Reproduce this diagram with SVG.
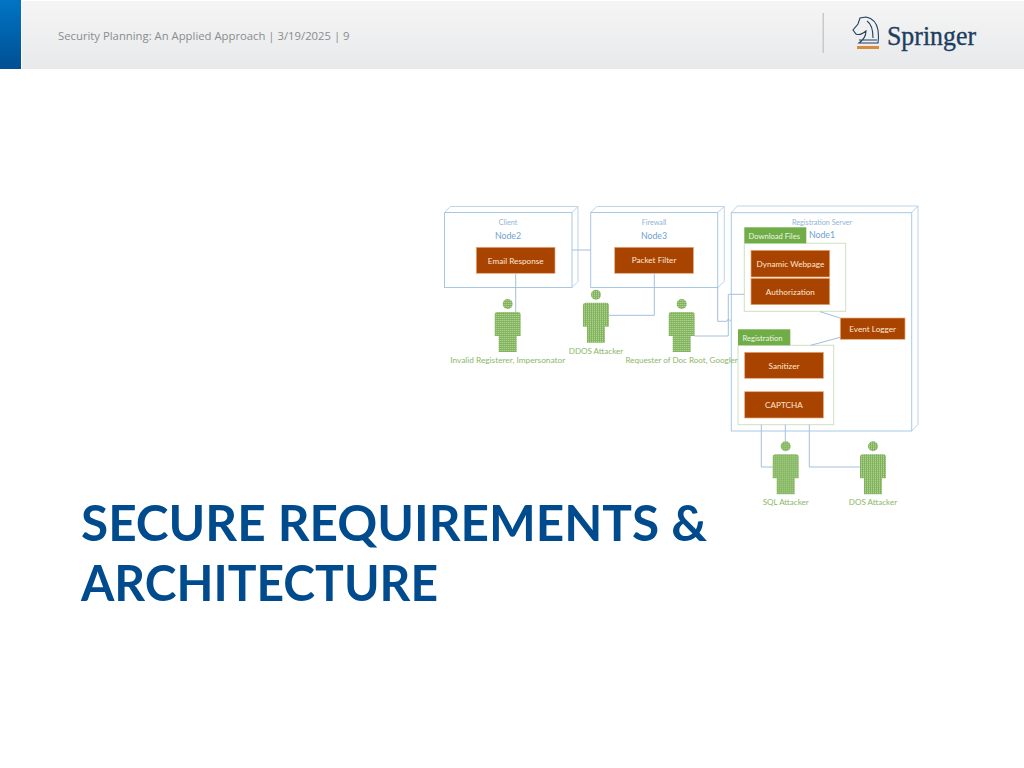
<svg xmlns="http://www.w3.org/2000/svg" width="1024" height="768" viewBox="0 0 1024 768">
<style>
text{font-family:"Lato","Open Sans","Liberation Sans",sans-serif}
.node{fill:#fff;stroke:#a8c8e2;stroke-width:1}
.depth{fill:none;stroke:#bdd3e8;stroke-width:1}
.conn{fill:none;stroke:#a5bedb;stroke-width:1}
.comp{fill:#a94400;stroke:#e8a878;stroke-width:.7}
.tab{fill:#70ad47}
.pkg{fill:#fff;stroke:#cfdfc4;stroke-width:1}
.ct{font-size:8.2px;fill:#fbe6d6;text-anchor:middle}
.tt{font-size:7.6px;fill:#eef6e8}
.nt{font-size:7.2px;fill:#8fb3d6;text-anchor:middle}
.nn{font-size:8.8px;fill:#6f9fd0;text-anchor:middle}
.al{font-size:8.050px;fill:#8ab768;text-anchor:middle}
.person{fill:url(#dots)}
</style>
<defs>
<linearGradient id="hd" x1="0" y1="0" x2="0" y2="1"><stop offset="0" stop-color="#f5f5f5"/><stop offset="1" stop-color="#e8e9eb"/></linearGradient>
<linearGradient id="bl" x1="0" y1="0" x2="0" y2="1"><stop offset="0" stop-color="#0075c4"/><stop offset="1" stop-color="#004f93"/></linearGradient>
<pattern id="dots" width="2" height="2" patternUnits="userSpaceOnUse"><rect width="2" height="2" fill="#80b35a"/><rect width="1" height="1" fill="#c0dcac"/></pattern>
<symbol id="actor" overflow="visible"><circle cx="0" cy="0" r="5"/><path d="M-10.500,8H10.500Q13,8 13,11V32H9V48H-9V32H-13V11Q-13,8 -10.500,8Z"/></symbol>
</defs>
<rect x="22" y="1" width="1002" height="68" fill="url(#hd)"/>
<rect x="0" y="0" width="21" height="69" fill="url(#bl)"/>
<text x="58" y="40" font-size="11.300" fill="#8a8c8e" style="font-family:'Open Sans',sans-serif">Security Planning: An Applied Approach | 3/19/2025 | 9</text>
<rect x="822.500" y="13" width="1.500" height="40" fill="#c9c9c9"/>
<g id="logo">
<path d="M859,43Q866,38 866,31Q860,36 856,34L853,30L858,24L860,18L866,17Q876,19 878,30Q879,37 878,43ZM859,40H877M867,21Q873,25 873,38" fill="none" stroke="#1f3f60" stroke-width="1.100"/>
<rect x="857" y="46" width="22" height="3" fill="#d98a3d"/>
<text x="887" y="45" font-size="26.500" fill="#1c3e5f" stroke="#1c3e5f" stroke-width=".35" textLength="89" lengthAdjust="spacingAndGlyphs" style="font-family:'Liberation Serif',serif">Springer</text>
</g>
<g id="node-client">
<rect class="node" x="444.500" y="212.500" width="127.500" height="75"/>
<path class="depth" d="M444.500,212.500L450.500,206.500H578V281.500L572,287.500M572,212.500L578,206.500"/>
<text class="nt" x="508" y="225">Client</text><text class="nn" x="508" y="238.500">Node2</text>
<rect class="comp" x="476.300" y="247.300" width="78.700" height="26"/><text class="ct" x="515.700" y="263.500">Email Response</text>
</g>
<g id="node-firewall">
<rect class="node" x="590.700" y="212.500" width="127" height="75"/>
<path class="depth" d="M590.700,212.500L596.700,206.500H724.300V281.500L717.700,287.500M717.700,212.500L724.300,206.500"/>
<text class="nt" x="654" y="225">Firewall</text><text class="nn" x="654" y="238.500">Node3</text>
<rect class="comp" x="614.700" y="247.300" width="78.700" height="26"/><text class="ct" x="654" y="263">Packet Filter</text>
</g>
<g id="node-server">
<rect class="node" x="731.300" y="212.700" width="180.400" height="218.300"/>
<path class="depth" d="M731.300,212.700L737.300,206H918V424.500L911.700,431M911.700,212.700L918,206"/>
<text class="nt" x="822" y="225">Registration Server</text><text class="nn" x="822" y="238">Node1</text>
</g>
<g id="pkg-download">
<rect class="pkg" x="744.300" y="243.300" width="101.400" height="68"/>
<rect class="tab" x="744.300" y="227.300" width="62" height="16"/><text class="tt" x="748.500" y="238.500">Download Files</text>
<rect class="comp" x="751" y="250.300" width="78.700" height="26.700"/><text class="ct" x="790.400" y="266.500">Dynamic Webpage</text>
<rect class="comp" x="751" y="278.300" width="78.700" height="26.400"/><text class="ct" x="790.400" y="294.500">Authorization</text>
</g>
<g id="pkg-registration">
<rect class="pkg" x="738" y="345.300" width="95.700" height="79.400"/>
<rect class="tab" x="738" y="329.300" width="52.300" height="16"/><text class="tt" x="742.500" y="340.500">Registration</text>
<rect class="comp" x="744.700" y="352.300" width="78.700" height="26"/><text class="ct" x="784" y="368.500">Sanitizer</text>
<rect class="comp" x="744.700" y="391.700" width="78.700" height="26.300"/><text class="ct" x="784" y="408">CAPTCHA</text>
</g>
<g id="connectors" class="conn">
<path class="conn" d="M572,250H591"/>
<path class="conn" d="M515.700,273V312"/>
<path class="conn" d="M654.300,273V315.300H609"/>
<path class="conn" d="M717.700,287V321.300H727L728.300,319L731,321.300"/>
<path class="conn" d="M694.700,336H728.300V294.300H744.300"/>
<path class="conn" d="M820,311.700L840.300,318"/>
<path class="conn" d="M810.700,345.300L840.300,337.300"/>
<path class="conn" d="M761.300,424.700V467H773"/>
<path class="conn" d="M785.300,424.700V441"/>
<path class="conn" d="M809.300,424.700V467H860"/>
</g>
<g id="node-logger">
<rect class="comp" x="840.300" y="318" width="64.700" height="21.300"/><text class="ct" x="872.700" y="332">Event Logger</text>
</g>
<g id="actor-invalid"><use href="#actor" x="507.700" y="304" class="person"/><text class="al" x="507.700" y="362.500" style="font-size:8.300px">Invalid Registerer, Impersonator</text></g>
<g id="actor-ddos"><use href="#actor" x="596" y="294.700" class="person"/><text class="al" x="596" y="353.500">DDOS Attacker</text></g>
<g id="actor-requester"><use href="#actor" x="681.700" y="304" class="person"/><text class="al" x="681.700" y="362.500">Requester of Doc Root, Googler</text></g>
<g id="actor-sql"><use href="#actor" x="785.700" y="446.300" class="person"/><text class="al" x="785.700" y="505">SQL Attacker</text></g>
<g id="actor-dos"><use href="#actor" x="873" y="446.300" class="person"/><text class="al" x="873" y="505">DOS Attacker</text></g>
<text x="81" y="541" font-size="50" font-weight="700" fill="#004b8d" textLength="626" lengthAdjust="spacingAndGlyphs">SECURE REQUIREMENTS &amp;</text>
<text x="81" y="601" font-size="50" font-weight="700" fill="#004b8d" textLength="357" lengthAdjust="spacingAndGlyphs">ARCHITECTURE</text>
</svg>
